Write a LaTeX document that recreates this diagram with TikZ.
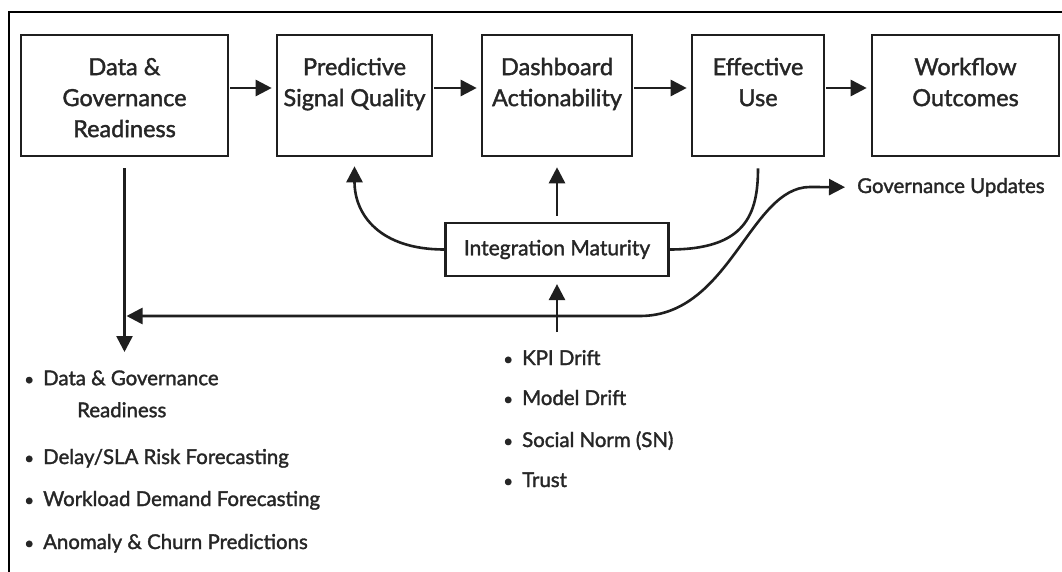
\documentclass[tikz,border=0pt]{standalone}
\usepackage{fontspec}
\setmainfont{Lato}[RawFeature={embolden=1.6}]
\usetikzlibrary{arrows.meta}
\newcommand\itembullet{\makebox[8pt][c]{\fontsize{17}{17}\selectfont •}\hspace{10pt}}
\begin{document}
\begin{tikzpicture}[x=1pt,y=-1pt,
  box/.style={draw=black!88, line width=2.6pt, inner sep=0pt, minimum height=121pt},
  boxtext/.style={anchor=north, inner sep=0pt, align=center, text=black!85,
    font=\fontsize{23.5}{31}\selectfont},
  conn/.style={draw=black!88, line width=2.6pt},
  tip/.tip={Triangle[length=16pt,width=16pt]},
  arr/.style={conn, -tip},
  item/.style={anchor=base west, inner sep=0pt, text=black!85,
    font=\fontsize{20.4}{32}\selectfont},
]
\useasboundingbox (0,0) rectangle (1062,572);
\fill[white] (0,0) rectangle (1062,572);
% outer frame (runs off the right and bottom edges)
\draw[line width=2pt] (1062,12) -- (9,12) -- (9,572);

% main chain of boxes
\node[box, minimum width=207pt] (b1) at (124.5,95.5) {};
\node[box, minimum width=155pt] (b2) at (354.5,95.5) {};
\node[box, minimum width=150pt] (b3) at (557,95.5) {};
\node[box, minimum width=132pt] (b4) at (758,95.5) {};
\node[box, minimum width=187pt] (b5) at (965.5,95.5) {};

\node[boxtext] (t1) at ([yshift=-19.5pt]b1.north) {\strut Data \&\\Governance\\Readiness};
\node[boxtext] (t2) at ([yshift=-19.5pt]b2.north) {\strut Predictive\\Signal Quality};
\node[boxtext] (t3) at ([yshift=-19.5pt]b3.north) {\strut Dashboard\\Actionability};
\node[boxtext] (t4) at ([yshift=-19.5pt]b4.north) {\strut Effective\\Use};
\node[boxtext] (t5) at ([yshift=-19.5pt]b5.north) {\strut Workflow\\Outcomes};

\foreach \a/\b in {b1/b2,b2/b3,b3/b4,b4/b5}
  \draw[arr, shorten <=1pt, shorten >=4pt] ([yshift=7.5pt]\a.east) -- ([yshift=7.5pt]\b.west);

% integration maturity and its links
\node[draw=black!88, line width=2.2pt, minimum width=223pt, minimum height=53pt,
  inner sep=0pt, text=black!85, font=\fontsize{21}{24}\selectfont]
  (im) at (557,249.5) {Integration Maturity};

\draw[arr, shorten <=6pt, shorten >=10pt] (im.north) -- (b3.south);
\draw[arr, shorten >=9pt] (im.west) .. controls (380,249.5) and (354.5,215) .. (b2.south);
\draw[conn, shorten >=11pt] (im.east) .. controls (745,249.5) and (758,215) .. (b4.south);

\coordinate (kin) at (557,332);
\draw[arr, shorten >=7pt] (kin) -- (im.south);

% governance feedback loop
\node[item] (gu) at (857,193) {Governance Updates};
\coordinate (lend) at (124.5,352);
\coordinate (join) at (124.5,316);
\draw[arr, shorten <=11pt] (b1.south) -- (lend);
\draw[conn, tip-tip, shorten <=2pt, shorten >=12pt]
  (join) -- (640,316) .. controls (730,316) and (750,187) .. (810,187) -- (gu.west);

% bullet lists
\node[item, anchor=north west, align=left] (l1) at (25,362.6)
  {\strut\itembullet Data \& Governance\\\hspace*{52pt}Readiness};
\node[item] (l2) at (25,464) {\itembullet Delay/SLA Risk Forecasting};
\node[item] (l3) at (25,506) {\itembullet Workload Demand Forecasting};
\node[item] (l4) at (25,549) {\itembullet Anomaly \& Churn Predictions};

\node[item] (r1) at (504,365) {\itembullet KPI Drift};
\node[item] (r2) at (504,405) {\itembullet Model Drift};
\node[item] (r3) at (504,447) {\itembullet Social Norm (SN)};
\node[item] (r4) at (504,487) {\itembullet Trust};
\end{tikzpicture}
\end{document}
